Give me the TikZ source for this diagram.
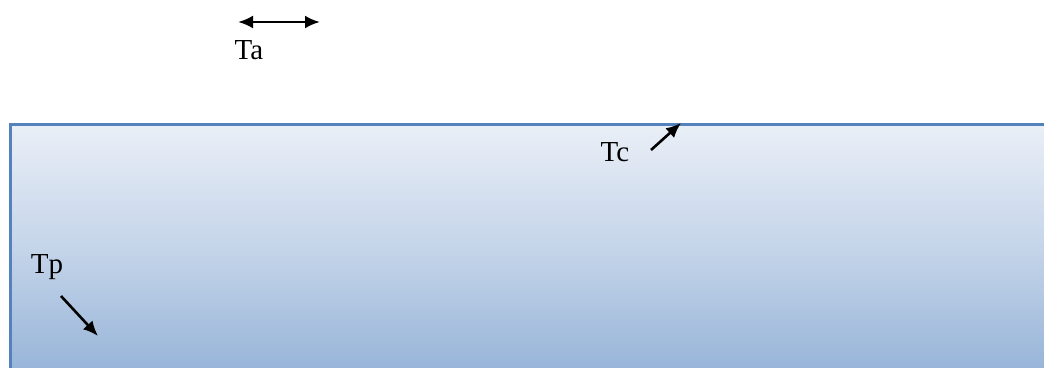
\documentclass[tikz,border=0pt]{standalone}
\usepackage{fontspec}
\setmainfont{Liberation Serif}
\definecolor{randblau}{HTML}{5482BC}
\definecolor{oben}{HTML}{EAEFF7}
\definecolor{unten}{HTML}{94B2D7}
\usetikzlibrary{arrows.meta, positioning}

\begin{document}
\begin{tikzpicture}[x=1pt, y=-1pt,
    pfeil/.style={line width=2.6pt, -{Latex[length=15pt, width=13pt]}},
    beschr/.style={font=\fontsize{29}{34}\selectfont, inner sep=0pt}]
    \useasboundingbox (0,0) rectangle (1044,367);
    \clip (0,0) rectangle (1044,367);
    % Platte
    \shade[top color=oben, bottom color=unten, middle color=oben!55!unten]
      (10,124) rectangle (1060,380);
    \draw[randblau, line width=3pt] (10,380) -- (10,124) -- (1060,124);
    % Beschriftungen
    \node[beschr, anchor=base] (ta) at (249,59)  {Ta};
    \node[beschr, anchor=base] (tc) at (615,161) {Tc};
    \node[beschr, anchor=base] (tp) at (47,273)  {Tp};
    % Pfeile
    \coordinate (ta1) at (238,22);
    \coordinate (ta2) at (320,22);
    \coordinate (tc1) at (651,150);
    \coordinate (tc2) at (681,123);
    \coordinate (tp1) at (61,296);
    \coordinate (tp2) at (98,336);
    \draw[pfeil, {Latex[length=15pt, width=13pt]}-{Latex[length=15pt, width=13pt]}] (ta1) -- (ta2);
    \draw[pfeil] (tc1) -- (tc2);
    \draw[pfeil] (tp1) -- (tp2);
\end{tikzpicture}
\end{document}
